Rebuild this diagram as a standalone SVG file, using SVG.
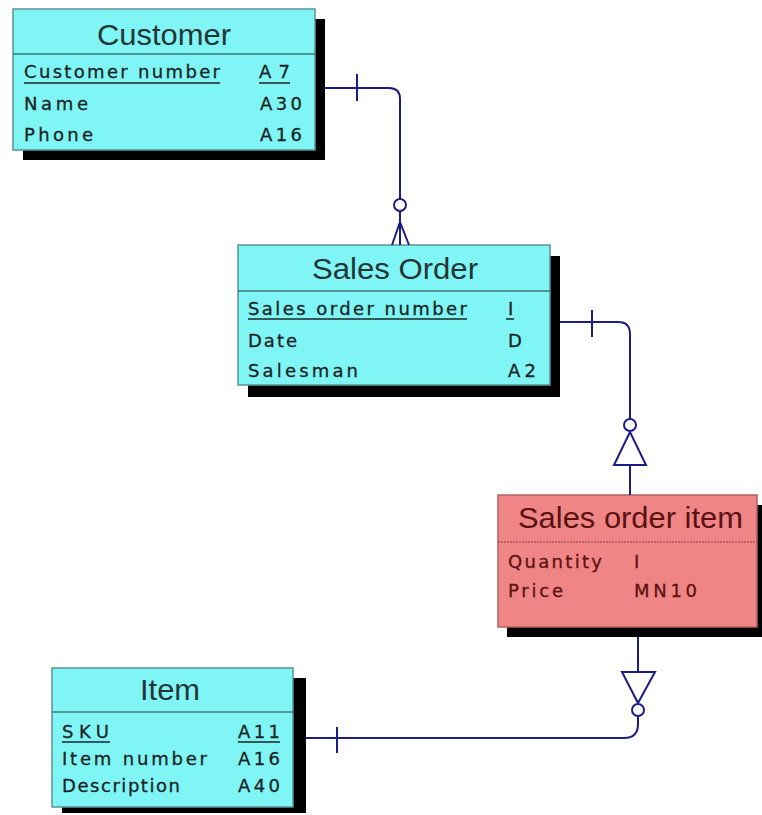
<svg xmlns="http://www.w3.org/2000/svg" width="762" height="815" viewBox="0 0 762 815">
<style>
.shadow{fill:#000}
.cyan{fill:#7ff5f5;stroke:#5a9494;stroke-width:1.5}
.red{fill:#ef8585;stroke:#b06060;stroke-width:1.5}
.sepc{stroke:#3e7474;stroke-width:1.5}
.sepr{stroke:#a85a5a;stroke-width:1.5}
.title{font-family:"Liberation Sans",Arial,sans-serif;font-size:29px;fill:#253535}
.row{font-family:"DejaVu Sans","Liberation Sans",sans-serif;font-size:18px;fill:#1a2424;stroke:#1a2424;stroke-width:0.3}
.rt{fill:#5a1212;stroke:#5a1212}
.ul{stroke:#1a2424;stroke-width:1.5}
.conn{fill:none;stroke:#1c1c86;stroke-width:2}
.circ{fill:#fff;stroke:#1c1c86;stroke-width:2}
</style>
<rect width="762" height="815" fill="#fff"/>

<g id="customer">
<rect class="shadow" x="23" y="19" width="302" height="141"/>
<rect class="cyan" x="13" y="9" width="302" height="141"/>
<line class="sepc" x1="13" y1="54" x2="315" y2="54"/>
<text class="title" x="97" y="45" textLength="134" lengthAdjust="spacingAndGlyphs">Customer</text>
<text class="row" x="24" y="78" textLength="196" lengthAdjust="spacing">Customer number</text>
<line class="ul" x1="24" y1="83" x2="220" y2="83"/>
<text class="row" x="259" y="78" textLength="31" lengthAdjust="spacing">A7</text>
<line class="ul" x1="259" y1="83" x2="290" y2="83"/>
<text class="row" x="24" y="110" textLength="64" lengthAdjust="spacing">Name</text>
<text class="row" x="260" y="110" textLength="42" lengthAdjust="spacing">A30</text>
<text class="row" x="24" y="141" textLength="69" lengthAdjust="spacing">Phone</text>
<text class="row" x="260" y="141" textLength="42" lengthAdjust="spacing">A16</text>
</g>

<g id="sales-order">
<rect class="shadow" x="248" y="256" width="312" height="141"/>
<rect class="cyan" x="238" y="245" width="312" height="140"/>
<line class="sepc" x1="238" y1="291" x2="550" y2="291"/>
<text class="title" x="312" y="279" textLength="166" lengthAdjust="spacingAndGlyphs">Sales Order</text>
<text class="row" x="248" y="315" textLength="219" lengthAdjust="spacing">Sales order number</text>
<line class="ul" x1="248" y1="319" x2="467" y2="319"/>
<text class="row" x="508" y="315">I</text>
<line class="ul" x1="506" y1="319" x2="514" y2="319"/>
<text class="row" x="248" y="347" textLength="49" lengthAdjust="spacing">Date</text>
<text class="row" x="508" y="347">D</text>
<text class="row" x="248" y="377" textLength="110" lengthAdjust="spacing">Salesman</text>
<text class="row" x="508" y="377" textLength="28" lengthAdjust="spacing">A2</text>
</g>

<g id="sales-order-item">
<rect class="shadow" x="507" y="505" width="260" height="132"/>
<rect class="red" x="498" y="495" width="259" height="132"/>
<line class="sepr" x1="498" y1="542" x2="757" y2="542" stroke-dasharray="2 1"/>
<text class="title rt" x="518" y="528" textLength="225" lengthAdjust="spacingAndGlyphs" style="stroke:none">Sales order item</text>
<text class="row rt" x="508" y="568" textLength="94" lengthAdjust="spacing">Quantity</text>
<text class="row rt" x="634" y="568">I</text>
<text class="row rt" x="508" y="597" textLength="55" lengthAdjust="spacing">Price</text>
<text class="row rt" x="634" y="597" textLength="63" lengthAdjust="spacing">MN10</text>
</g>

<g id="item">
<rect class="shadow" x="62" y="678" width="244" height="135"/>
<rect class="cyan" x="52" y="668" width="241" height="139"/>
<line class="sepc" x1="52" y1="712" x2="293" y2="712"/>
<text class="title" x="140" y="700" textLength="60" lengthAdjust="spacingAndGlyphs">Item</text>
<text class="row" x="62" y="738" textLength="47" lengthAdjust="spacing">SKU</text>
<line class="ul" x1="62" y1="742" x2="110" y2="742"/>
<text class="row" x="238" y="738" textLength="42" lengthAdjust="spacing">A11</text>
<line class="ul" x1="238" y1="742" x2="280" y2="742"/>
<text class="row" x="62" y="765" textLength="145" lengthAdjust="spacing">Item number</text>
<text class="row" x="238" y="765" textLength="42" lengthAdjust="spacing">A16</text>
<text class="row" x="62" y="792" textLength="118" lengthAdjust="spacing">Description</text>
<text class="row" x="238" y="792" textLength="42" lengthAdjust="spacing">A40</text>
</g>

<g id="connectors">
<path class="conn" d="M325,88 H389 Q400,88 400,99 V199"/>
<line class="conn" x1="357" y1="74" x2="357" y2="101"/>
<circle class="circ" cx="400" cy="205" r="6"/>
<path class="conn" d="M400,211 V245 M400,222 L392,245 M400,222 L409,245"/>
<path class="conn" d="M560,322 H618 Q630,322 630,334 V419"/>
<line class="conn" x1="592" y1="310" x2="592" y2="337"/>
<circle class="circ" cx="630" cy="425" r="6"/>
<polygon class="conn" points="630,432 614,465 646,465"/>
<line class="conn" x1="630" y1="465" x2="630" y2="495"/>
<line class="conn" x1="638" y1="637" x2="638" y2="672"/>
<polygon class="conn" points="622,672 655,672 638,703"/>
<circle class="circ" cx="638" cy="710" r="6"/>
<path class="conn" d="M638,716 V724 Q638,738 624,738 H306"/>
<line class="conn" x1="337" y1="727" x2="337" y2="753"/>
</g>
</svg>
